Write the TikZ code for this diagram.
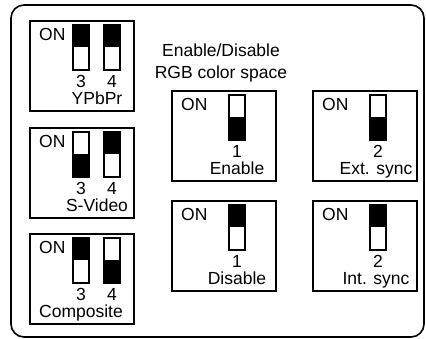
\documentclass[tikz,border=0pt]{standalone}
\usepackage{fontspec}
\setmainfont{Liberation Sans}
\usepackage{tikz}
\usetikzlibrary{positioning}

\begin{document}
\begin{tikzpicture}[x=1pt, y=-1pt,
    frame/.style={line width=1.6pt, rounded corners=13pt},
    dipbox/.style={draw, line width=2.2pt, minimum width=104pt, minimum height=90pt, inner sep=0pt, anchor=north west},
    switch/.style={draw, line width=2pt, minimum width=16pt, minimum height=45pt, inner sep=0pt},
    lbl/.style={font=\fontsize{17.5}{21}\selectfont, inner sep=0pt, anchor=base},
    onlbl/.style={lbl, anchor=base west}]
    \useasboundingbox (0,0) rectangle (426,339);
    \draw[frame] (11,5) rectangle (424,337);

    % YPbPr
    \node[dipbox] (ypbpr) at (29,20) {};
    \node[onlbl] (ypbpr-on) at (39,41) {ON};
    \node[switch] (ypbpr-s3) at (81,47.5) {};
    \node[switch] (ypbpr-s4) at (112,47.5) {};
    \fill (ypbpr-s3.north west) rectangle (ypbpr-s3.east);
    \fill (ypbpr-s4.north west) rectangle (ypbpr-s4.east);
    \node[lbl] (ypbpr-n3) at (81,87.5) {3};
    \node[lbl] (ypbpr-n4) at (112,87.5) {4};
    \node[lbl] (ypbpr-name) at (97,104.5) {YPbPr};

    % S-Video
    \node[dipbox] (svideo) at (29,127) {};
    \node[onlbl] (svideo-on) at (39,148) {ON};
    \node[switch] (svideo-s3) at (81,154.5) {};
    \node[switch] (svideo-s4) at (112,154.5) {};
    \fill (svideo-s3.west) rectangle (svideo-s3.south east);
    \fill (svideo-s4.north west) rectangle (svideo-s4.east);
    \node[lbl] (svideo-n3) at (81,194.5) {3};
    \node[lbl] (svideo-n4) at (112,194.5) {4};
    \node[lbl] (svideo-name) at (97,211.5) {S-Video};

    % Composite
    \node[dipbox] (composite) at (29,233) {};
    \node[onlbl] (composite-on) at (39,254) {ON};
    \node[switch] (composite-s3) at (81,260.5) {};
    \node[switch] (composite-s4) at (112,260.5) {};
    \fill (composite-s3.north west) rectangle (composite-s3.east);
    \fill (composite-s4.west) rectangle (composite-s4.south east);
    \node[lbl] (composite-n3) at (81,300.5) {3};
    \node[lbl] (composite-n4) at (112,300.5) {4};
    \node[lbl] (composite-name) at (81,317.5) {Composite};

    % RGB colour space
    \node[lbl] (title1) at (221,57) {Enable/Disable};
    \node[lbl] (title2) at (221,79) {RGB color space};

    % Enable
    \node[dipbox] (enable) at (171,90) {};
    \node[onlbl] (enable-on) at (181,111) {ON};
    \node[switch] (enable-s1) at (237,117.5) {};
    \fill (enable-s1.west) rectangle (enable-s1.south east);
    \node[lbl] (enable-n1) at (237,157.5) {1};
    \node[lbl] (enable-name) at (237,174.5) {Enable};

    % Disable
    \node[dipbox] (disable) at (171,200) {};
    \node[onlbl] (disable-on) at (181,221) {ON};
    \node[switch] (disable-s1) at (237,227.5) {};
    \fill (disable-s1.north west) rectangle (disable-s1.east);
    \node[lbl] (disable-n1) at (237,267.5) {1};
    \node[lbl] (disable-name) at (237,284.5) {Disable};

    % Ext. sync
    \node[dipbox] (extsync) at (312,90) {};
    \node[onlbl] (extsync-on) at (322,111) {ON};
    \node[switch] (extsync-s2) at (378,117.5) {};
    \fill (extsync-s2.west) rectangle (extsync-s2.south east);
    \node[lbl] (extsync-n2) at (378,157.5) {2};
    \node[lbl] (extsync-name) at (376,174.5) {Ext. sync};

    % Int. sync
    \node[dipbox] (intsync) at (312,200) {};
    \node[onlbl] (intsync-on) at (322,221) {ON};
    \node[switch] (intsync-s2) at (378,227.5) {};
    \fill (intsync-s2.north west) rectangle (intsync-s2.east);
    \node[lbl] (intsync-n2) at (378,267.5) {2};
    \node[lbl] (intsync-name) at (376,284.5) {Int. sync};
\end{tikzpicture}
\end{document}
